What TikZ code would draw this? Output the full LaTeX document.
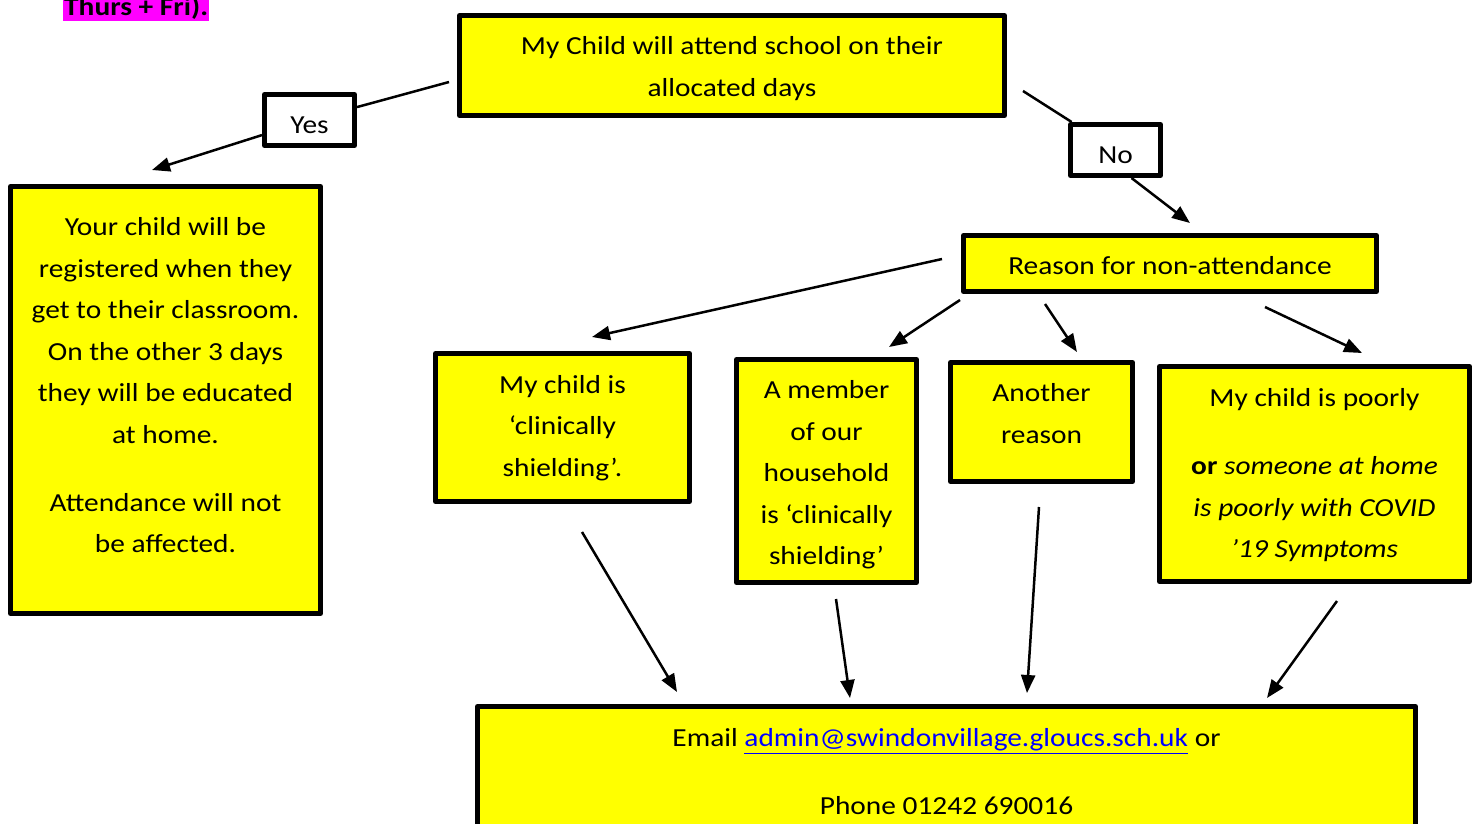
\documentclass[tikz,border=0pt]{standalone}
\usepackage{fontspec}
\setmainfont{Carlito}[FakeStretch=1.13]
\usetikzlibrary{arrows.meta}
\definecolor{boxyellow}{RGB}{255,255,0}
\definecolor{hlmagenta}{RGB}{255,0,255}
\definecolor{linkblue}{RGB}{0,0,255}
\begin{document}
\begin{tikzpicture}[x=1pt,y=-1pt,
  ybox/.style={draw=black,line width=5pt,fill=boxyellow,line join=round,inner sep=0pt},
  wbox/.style={draw=black,line width=5pt,fill=white,line join=round,inner sep=0pt,
    minimum width=90pt,minimum height=51pt,text height=27pt,text depth=0pt,
    font=\fontsize{26}{41.5}\selectfont},
  txt/.style={align=center,inner sep=0pt,font=\fontsize{26}{41.5}\selectfont},
  conn/.style={draw=black,line width=2.5pt},
  arr/.style={conn,-{Triangle[length=18pt,width=14pt]}}]
\useasboundingbox (0,0) rectangle (1473,823);
\clip (0,0) rectangle (1473,823);
% highlighted fragment at top
\node[anchor=base west,fill=hlmagenta,inner xsep=1pt,inner ysep=2.5pt,
  font=\fontsize{26}{30}\selectfont\bfseries] (hl) at (63,15) {Thurs + Fri).};
% boxes
\node[ybox,minimum width=545pt,minimum height=100pt] (top) at (732,65.5) {};
\node[txt] (toptxt) at (732,68.5) {My Child will attend school on their\\allocated days};
\node[wbox] (yes) at (309.5,120) {Yes};
\node[wbox] (no) at (1115.5,150) {No};
\node[ybox,minimum width=310pt,minimum height=427pt] (left) at (165.5,400) {};
\node[txt] (lefttxt) at (165.5,385.5) {Your child will be\\registered when they\\get to their classroom.\\On the other 3 days\\they will be educated\\at home.\\[26.5pt]Attendance will not\\be affected.};
\node[ybox,minimum width=413pt,minimum height=56pt] (reason) at (1170,263.5) {};
\node[txt] (reasontxt) at (1170,265.5) {Reason for non-attendance};
\node[ybox,minimum width=254pt,minimum height=148pt] (ba) at (562.5,427.5) {};
\node[txt] (batxt) at (562.5,428) {My child is\\‘clinically\\shielding’.};
\node[ybox,minimum width=180pt,minimum height=223pt] (bb) at (826.5,471) {};
\node[txt] (bbtxt) at (826.5,475) {A member\\of our\\household\\is ‘clinically\\shielding’};
\node[ybox,minimum width=182pt,minimum height=119pt] (bc) at (1041.5,422) {};
\node[txt] (bctxt) at (1041.5,413.5) {Another\\reason};
\node[ybox,minimum width=310pt,minimum height=215pt] (bd) at (1314.5,474) {};
\node[txt] (bdtxt) at (1314.5,475.5) {My child is poorly\\[26.5pt]\textbf{or} \textit{someone at home}\\\textit{is poorly with COVID}\\\textit{’19 Symptoms}};
\node[ybox,minimum width=938pt,minimum height=151pt] (bottom) at (946.5,782) {};
\node[txt] (bottomtxt) at (946.5,772) {Email {\color{linkblue}\underline{admin@swindonvillage.gloucs.sch.uk}} or\\[26.5pt]Phone 01242 690016};
% connector end points
\coordinate (ys) at (449,82);
\coordinate (ye) at (152,170);
\coordinate (ns) at (1023,91);
\coordinate (ne) at (1190,223);
\coordinate (r1s) at (942,259); \coordinate (r1e) at (592,337);
\coordinate (r2s) at (960,300); \coordinate (r2e) at (889,347);
\coordinate (r3s) at (1045,304); \coordinate (r3e) at (1077,352);
\coordinate (r4s) at (1265,307); \coordinate (r4e) at (1362,353);
\coordinate (b1s) at (582,532); \coordinate (b1e) at (677,692);
\coordinate (b2s) at (836,599); \coordinate (b2e) at (850,698);
\coordinate (b3s) at (1039,507); \coordinate (b3e) at (1027,693);
\coordinate (b4s) at (1337,601); \coordinate (b4e) at (1267,698);
% connectors
\draw[conn] (ys) -- (yes);
\draw[arr] (yes) -- (ye);
\draw[conn] (ns) -- (no);
\draw[arr] ([xshift=16pt]no.south) -- (ne);
\draw[arr] (r1s) -- (r1e);
\draw[arr] (r2s) -- (r2e);
\draw[arr] (r3s) -- (r3e);
\draw[arr] (r4s) -- (r4e);
\draw[arr] (b1s) -- (b1e);
\draw[arr] (b2s) -- (b2e);
\draw[arr] (b3s) -- (b3e);
\draw[arr] (b4s) -- (b4e);
\end{tikzpicture}
\end{document}
